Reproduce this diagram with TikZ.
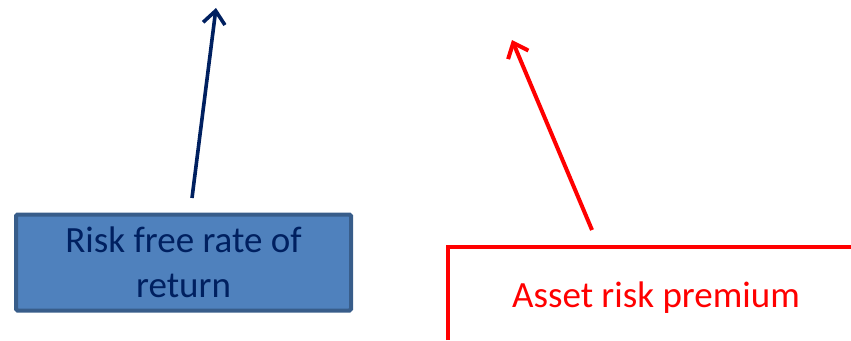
\documentclass[tikz,border=0pt]{standalone}
\usepackage{fontspec}
\setmainfont{Carlito}
\usetikzlibrary{arrows.meta}
\definecolor{navy}{HTML}{002060}
\definecolor{boxfill}{HTML}{4F81BD}
\definecolor{boxline}{HTML}{385D8A}
\begin{document}
\begin{tikzpicture}[x=1pt,y=-1pt]
\useasboundingbox (0,0) rectangle (851,340);
\tikzset{bigtext/.style={font=\fontsize{37}{45}\selectfont}}

\node[bigtext, draw=boxline, fill=boxfill, line width=4pt, rounded corners=1.5pt, align=center, minimum width=335, minimum height=96, text=navy, inner sep=0pt] (rf) at (183.5,262.5) {Risk free rate of\\return}; % blue box
\coordinate (rfstart) at (192,198);
\coordinate (rfend) at (216,8);
\draw[navy, line width=3.6pt, -{Straight Barb[length=13pt,width=22pt]}] (rfstart) -- (rfend);

\coordinate (lbottom) at (448,340);
\coordinate (lcorner) at (448,247);
\coordinate (lright) at (851,247);
\draw[red, line width=4.8pt] (lbottom) -- (lcorner) -- (lright); % open frame
\node[bigtext, red, anchor=base] (arp) at (656,307) {Asset risk premium};
\coordinate (arpstart) at (592,230);
\coordinate (arpend) at (512,40);
\draw[red, line width=4pt, -{Straight Barb[length=13pt,width=22pt]}] (arpstart) -- (arpend);

\end{tikzpicture}
\end{document}
